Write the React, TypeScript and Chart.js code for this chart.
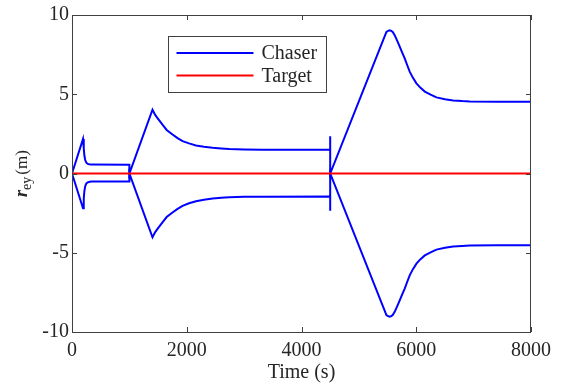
import React, { useEffect, useRef } from "react";
import { Chart, registerables } from "chart.js";

Chart.register(...registerables);

// ---- data ----
const chaserTime = [
  0, 192, 205, 215, 230, 250, 280, 330, 1000, 1000,
  1403, 1450, 1500, 1577, 1650, 1752, 1840, 1927, 2040, 2160, 2300, 2451, 2600, 2742, 3000, 3325, 4500,
  4500, 4500,
  5480, 5510, 5537, 5565, 5590, 5624, 5665, 5712, 5755, 5799, 5840, 5886, 5940, 6003, 6070, 6149, 6250, 6352,
  6500, 6643, 6800, 6934, 7400, 8000,
];
const chaserUpper = [
  0, 2.18, 1.6, 1.15, 0.85, 0.68, 0.6, 0.56, 0.55, 0,
  4.02, 3.7, 3.45, 3.08, 2.75, 2.46, 2.23, 2.04, 1.9, 1.77, 1.69, 1.62, 1.58, 1.55, 1.52, 1.5, 1.5,
  2.35, 0,
  8.93, 9.0, 9.04, 9.0, 8.93, 8.73, 8.4, 8.0, 7.63, 7.26, 6.86, 6.43, 6.05, 5.69, 5.42, 5.17, 4.97, 4.8,
  4.68, 4.61, 4.57, 4.55, 4.53, 4.53,
];
const chaserLower = [
  0, -2.2, -1.6, -1.12, -0.8, -0.63, -0.55, -0.51, -0.5, 0,
  -4.02, -3.7, -3.45, -3.08, -2.75, -2.46, -2.23, -2.04, -1.88, -1.75, -1.66, -1.58, -1.53, -1.5, -1.47, -1.46, -1.45,
  -2.35, 0,
  -8.93, -9.0, -9.04, -9.0, -8.93, -8.73, -8.4, -8.0, -7.63, -7.26, -6.86, -6.43, -6.05, -5.69, -5.42, -5.17, -4.97, -4.8,
  -4.68, -4.61, -4.57, -4.55, -4.53, -4.53,
];
const targetTime = [0, 8000];
const targetValue = [0, 0];

const xTickValues = [0, 2000, 4000, 6000, 8000];
const yTickValues = [-10, -5, 0, 5, 10];
const legendLabels = ["Chaser", "Target"];
const xTitle = "Time (s)";
const yTitleMain = "r";
const yTitleSub = "ey";
const yTitleUnit = "(m)";

// ---- styles ----
const FONT = "'Liberation Serif', 'Times New Roman', serif";
const TEXT = "#262626";
const AXIS = "#404040";
const BLUE = "#0000ff";
const RED = "#ff0000";

const decorPlugin = {
  id: "decor",
  afterDatasetsDraw(chart: any) {
    const { ctx, chartArea: a, scales } = chart;
    const xs = scales.x;
    const ys = scales.y;
    ctx.save();
    // frame
    ctx.strokeStyle = AXIS;
    ctx.lineWidth = 1;
    ctx.strokeRect(a.left + 0.5, a.top + 0.5, a.right - a.left - 1, a.bottom - a.top);
    // inward ticks
    const tl = 5;
    ctx.beginPath();
    xTickValues.forEach((v) => {
      const px = Math.round(xs.getPixelForValue(v)) + 0.5;
      ctx.moveTo(px, a.bottom);
      ctx.lineTo(px, a.bottom - tl);
      ctx.moveTo(px, a.top);
      ctx.lineTo(px, a.top + tl);
    });
    yTickValues.forEach((v) => {
      const py = Math.round(ys.getPixelForValue(v)) + 0.5;
      ctx.moveTo(a.left, py);
      ctx.lineTo(a.left + tl, py);
      ctx.moveTo(a.right, py);
      ctx.lineTo(a.right - tl, py);
    });
    ctx.stroke();

    // legend box
    const bx = a.left + 96.5;
    const by = a.top + 21.5;
    const bw = 158;
    const bh = 56;
    ctx.fillStyle = "#ffffff";
    ctx.fillRect(bx, by, bw, bh);
    ctx.strokeStyle = AXIS;
    ctx.lineWidth = 1;
    ctx.strokeRect(bx, by, bw, bh);
    const colors = [BLUE, RED];
    const rows = [16.5, 39];
    ctx.font = `20px ${FONT}`;
    ctx.textBaseline = "middle";
    ctx.textAlign = "left";
    legendLabels.forEach((lab, i) => {
      const ly = by + rows[i];
      ctx.strokeStyle = colors[i];
      ctx.lineWidth = 2;
      ctx.beginPath();
      ctx.moveTo(bx + 8, ly);
      ctx.lineTo(bx + 85, ly);
      ctx.stroke();
      ctx.fillStyle = TEXT;
      ctx.fillText(lab, bx + 93, ly + 1);
    });

    // y-axis title (rotated, with subscript)
    const mainFont = `italic bold 18px ${FONT}`;
    const subFont = `14px ${FONT}`;
    const unitFont = `17px ${FONT}`;
    ctx.font = mainFont;
    const w1 = ctx.measureText(yTitleMain).width;
    ctx.font = subFont;
    const w2 = ctx.measureText(yTitleSub).width;
    ctx.font = unitFont;
    const w3 = ctx.measureText(yTitleUnit).width;
    const gap = 2;
    const total = w1 + w2 + gap + w3;
    const cy = (a.top + a.bottom) / 2;
    ctx.translate(26.5, cy);
    ctx.rotate(-Math.PI / 2);
    ctx.fillStyle = TEXT;
    ctx.textBaseline = "alphabetic";
    let x = -total / 2;
    ctx.font = mainFont;
    ctx.fillText(yTitleMain, x, 0);
    x += w1;
    ctx.font = subFont;
    ctx.fillText(yTitleSub, x, 4);
    x += w2 + gap;
    ctx.font = unitFont;
    ctx.fillText(yTitleUnit, x, 0);
    ctx.restore();
  },
};

export default function App() {
  const ref = useRef<HTMLCanvasElement | null>(null);

  useEffect(() => {
    if (!ref.current) return;
    const upper = chaserTime.map((t, i) => ({ x: t, y: chaserUpper[i] }));
    const lower = chaserTime.map((t, i) => ({ x: t, y: chaserLower[i] }));
    const target = targetTime.map((t, i) => ({ x: t, y: targetValue[i] }));
    const chart = new Chart(ref.current, {
      type: "line",
      data: {
        datasets: [
          { label: legendLabels[0], data: upper, borderColor: BLUE, borderWidth: 2, pointRadius: 0, tension: 0, order: 1 },
          { label: legendLabels[0] + " (lower)", data: lower, borderColor: BLUE, borderWidth: 2, pointRadius: 0, tension: 0, order: 1 },
          { label: legendLabels[1], data: target, borderColor: RED, borderWidth: 2, pointRadius: 0, tension: 0, order: 0 },
        ],
      },
      options: {
        animation: false,
        responsive: false,
        devicePixelRatio: 1,
        parsing: false as any,
        layout: { padding: { left: 0, top: 13, right: 31, bottom: 0 } },
        plugins: { legend: { display: false }, tooltip: { enabled: false }, title: { display: false } },
        scales: {
          x: {
            type: "linear",
            min: 0,
            max: 8000,
            afterFit: (s: any) => {
              s.height = 53;
            },
            afterBuildTicks: (s: any) => {
              s.ticks = xTickValues.map((v) => ({ value: v }));
            },
            ticks: {
              font: { family: FONT, size: 20 },
              color: TEXT,
              padding: 7,
              maxRotation: 0,
              callback: (v: any) => String(v),
            },
            grid: { display: false, drawTicks: false },
            border: { display: false },
            title: { display: true, text: xTitle, font: { family: FONT, size: 20 }, color: TEXT, padding: { top: 0, bottom: 0 } },
          },
          y: {
            type: "linear",
            min: -10,
            max: 10,
            afterFit: (s: any) => {
              s.width = 72;
            },
            afterBuildTicks: (s: any) => {
              s.ticks = yTickValues.map((v) => ({ value: v }));
            },
            ticks: { font: { family: FONT, size: 20 }, color: TEXT, padding: 3, callback: (v: any) => String(v) },
            grid: { display: false, drawTicks: false },
            border: { display: false },
          },
        },
      },
      plugins: [decorPlugin],
    });
    return () => chart.destroy();
  }, []);

  return (
    <div style={{ position: "fixed", left: 0, top: 0, width: 562, height: 385, background: "#ffffff" }}>
      <canvas ref={ref} width={562} height={385} />
    </div>
  );
}
